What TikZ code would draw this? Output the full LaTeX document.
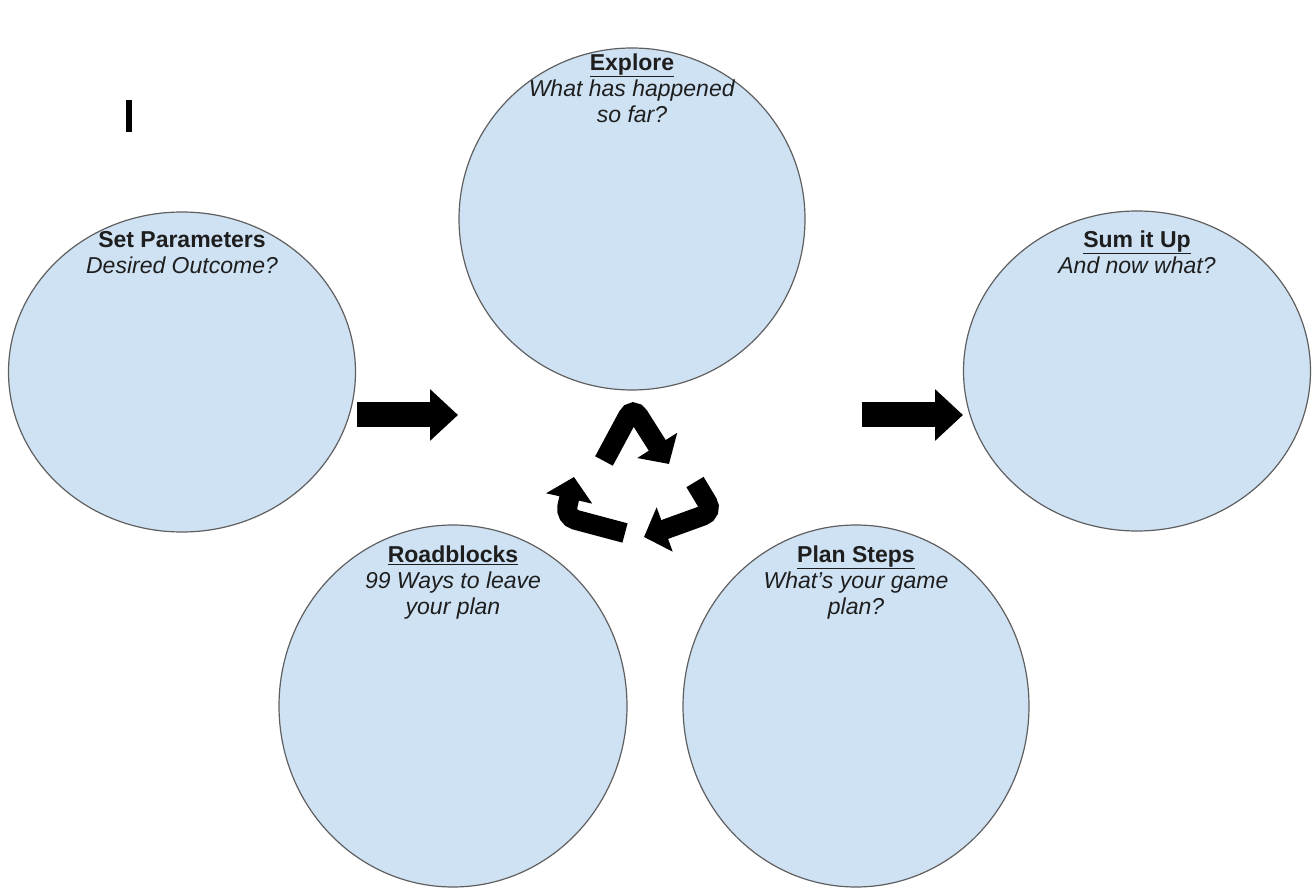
\documentclass[tikz,border=0pt]{standalone}
\usepackage{fontspec}
\setmainfont{Liberation Sans}
\usepackage[]{xcolor}
\usetikzlibrary{arrows.meta}
\usetikzlibrary{shapes.geometric}
\usetikzlibrary{positioning}
\definecolor{bubblefill}{HTML}{CFE2F3}
\definecolor{bubbleline}{HTML}{5F5F5F}
\definecolor{ink}{HTML}{1E1E1E}
\tikzset{bubble/.style = {ellipse, draw=bubbleline, fill=bubblefill, line width=1.2pt, inner sep=0}}
\tikzset{lbl/.style = {align=center, text=ink, font=\fontsize{23}{26}\selectfont, inner sep=0}}
\tikzset{blockarrow/.style = {line width=25pt, -{Triangle[length=28pt,width=50pt]}}}
\tikzset{cyc/.style = {line width=20pt, rounded corners=11pt, -{Triangle[length=22pt,width=46pt]}}}

\begin{document}
\begin{tikzpicture}[x=1pt,y=-1pt]
        \useasboundingbox (0,0) rectangle (1315,890);
        \node[bubble, minimum width=347, minimum height=320] (param) at (182,372) {};
        \node[bubble, minimum width=346, minimum height=342] (explore) at (632,219) {};
        \node[bubble, minimum width=347, minimum height=320] (sumup) at (1137,371) {};
        \node[bubble, minimum width=348, minimum height=362] (road) at (453,706) {};
        \node[bubble, minimum width=346, minimum height=362] (plan) at (856,706) {};
        \node[lbl, below=20pt of param.north] (paramtxt) {\textbf{Set Parameters}\\\textit{Desired Outcome?}};
        \node[lbl, below=6pt of explore.north] (exploretxt) {\textbf{\underline{Explore}}\\\textit{What has happened}\\\textit{so far?}};
        \node[lbl, below=20pt of sumup.north] (sumuptxt) {\textbf{\underline{Sum it Up}}\\\textit{And now what?}};
        \node[lbl, below=21pt of road.north] (roadtxt) {\textbf{\underline{Roadblocks}}\\\textit{99 Ways to leave}\\\textit{your plan}};
        \node[lbl, below=21pt of plan.north] (plantxt) {\textbf{\underline{Plan Steps}}\\\textit{What’s your game}\\\textit{plan?}};
        \coordinate (leftfrom) at (357,415);
        \coordinate (leftto) at (458,415);
        \coordinate (rightfrom) at (862,415);
        \coordinate (rightto) at (963,415);
        \draw[blockarrow] (leftfrom) -- (leftto);
        \draw[blockarrow] (rightfrom) -- (rightto);
        \draw[cyc] (604,461) -- (633,407) -- (669,464);
        \draw[cyc] (695,482) -- (713,512) -- (644,537);
        \draw[cyc] (625,533) -- (565,517) -- (574,477);
        \fill (126,100) rectangle (132,132);
    \end{tikzpicture}
\end{document}
